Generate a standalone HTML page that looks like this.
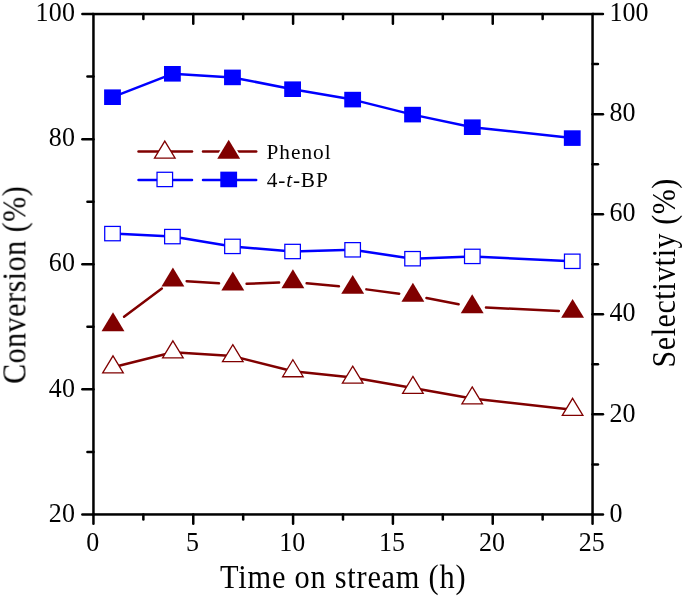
<!DOCTYPE html>
<html><head><meta charset="utf-8"><title>chart</title>
<style>html,body{margin:0;padding:0;background:#fff;}body{width:685px;height:598px;position:relative;overflow:hidden;font-family:"Liberation Serif",serif;}</style>
</head><body>
<svg width="685" height="598" viewBox="0 0 685 598" style="position:absolute;left:0;top:0">
<rect width="685" height="598" fill="#fff"/>
<line x1="113.00" y1="367.30" x2="172.90" y2="352.30" stroke="#800000" stroke-width="2.5" stroke-linecap="round"/>
<line x1="172.90" y1="352.30" x2="232.80" y2="356.10" stroke="#800000" stroke-width="2.5" stroke-linecap="round"/>
<line x1="232.80" y1="356.10" x2="292.90" y2="371.20" stroke="#800000" stroke-width="2.5" stroke-linecap="round"/>
<line x1="292.90" y1="371.20" x2="352.70" y2="377.60" stroke="#800000" stroke-width="2.5" stroke-linecap="round"/>
<line x1="352.70" y1="377.60" x2="412.90" y2="387.90" stroke="#800000" stroke-width="2.5" stroke-linecap="round"/>
<line x1="412.90" y1="387.90" x2="472.20" y2="398.40" stroke="#800000" stroke-width="2.5" stroke-linecap="round"/>
<line x1="472.20" y1="398.40" x2="572.60" y2="409.80" stroke="#800000" stroke-width="2.5" stroke-linecap="round"/>
<polygon points="113.00,355.85 123.30,372.85 102.70,372.85" fill="#fff" stroke="#800000" stroke-width="1.3" stroke-linejoin="miter" stroke-miterlimit="10"/>
<polygon points="172.90,340.85 183.20,357.85 162.60,357.85" fill="#fff" stroke="#800000" stroke-width="1.3" stroke-linejoin="miter" stroke-miterlimit="10"/>
<polygon points="232.80,344.65 243.10,361.65 222.50,361.65" fill="#fff" stroke="#800000" stroke-width="1.3" stroke-linejoin="miter" stroke-miterlimit="10"/>
<polygon points="292.90,359.75 303.20,376.75 282.60,376.75" fill="#fff" stroke="#800000" stroke-width="1.3" stroke-linejoin="miter" stroke-miterlimit="10"/>
<polygon points="352.70,366.15 363.00,383.15 342.40,383.15" fill="#fff" stroke="#800000" stroke-width="1.3" stroke-linejoin="miter" stroke-miterlimit="10"/>
<polygon points="412.90,376.45 423.20,393.45 402.60,393.45" fill="#fff" stroke="#800000" stroke-width="1.3" stroke-linejoin="miter" stroke-miterlimit="10"/>
<polygon points="472.20,386.95 482.50,403.95 461.90,403.95" fill="#fff" stroke="#800000" stroke-width="1.3" stroke-linejoin="miter" stroke-miterlimit="10"/>
<polygon points="572.60,398.35 582.90,415.35 562.30,415.35" fill="#fff" stroke="#800000" stroke-width="1.3" stroke-linejoin="miter" stroke-miterlimit="10"/>
<line x1="124.05" y1="316.73" x2="161.85" y2="288.47" stroke="#800000" stroke-width="2.5" stroke-linecap="round"/>
<line x1="186.67" y1="281.14" x2="219.03" y2="283.36" stroke="#800000" stroke-width="2.5" stroke-linecap="round"/>
<line x1="246.59" y1="283.77" x2="279.11" y2="282.53" stroke="#800000" stroke-width="2.5" stroke-linecap="round"/>
<line x1="306.64" y1="283.29" x2="338.96" y2="286.31" stroke="#800000" stroke-width="2.5" stroke-linecap="round"/>
<line x1="366.38" y1="289.38" x2="399.22" y2="293.67" stroke="#800000" stroke-width="2.5" stroke-linecap="round"/>
<line x1="426.45" y1="298.08" x2="458.65" y2="304.32" stroke="#800000" stroke-width="2.5" stroke-linecap="round"/>
<line x1="485.99" y1="307.59" x2="558.81" y2="310.96" stroke="#800000" stroke-width="2.5" stroke-linecap="round"/>
<polygon points="113.00,312.30 124.45,331.20 101.55,331.20" fill="#800000"/>
<polygon points="172.90,267.50 184.35,286.40 161.45,286.40" fill="#800000"/>
<polygon points="232.80,271.60 244.25,290.50 221.35,290.50" fill="#800000"/>
<polygon points="292.90,269.30 304.35,288.20 281.45,288.20" fill="#800000"/>
<polygon points="352.70,274.90 364.15,293.80 341.25,293.80" fill="#800000"/>
<polygon points="412.90,282.75 424.35,301.65 401.45,301.65" fill="#800000"/>
<polygon points="472.20,294.25 483.65,313.15 460.75,313.15" fill="#800000"/>
<polygon points="572.60,298.90 584.05,317.80 561.15,317.80" fill="#800000"/>
<line x1="112.50" y1="233.60" x2="172.40" y2="236.60" stroke="#0000ff" stroke-width="2.5" stroke-linecap="round"/>
<line x1="172.40" y1="236.60" x2="232.45" y2="246.40" stroke="#0000ff" stroke-width="2.5" stroke-linecap="round"/>
<line x1="232.45" y1="246.40" x2="292.60" y2="251.50" stroke="#0000ff" stroke-width="2.5" stroke-linecap="round"/>
<line x1="292.60" y1="251.50" x2="352.65" y2="249.80" stroke="#0000ff" stroke-width="2.5" stroke-linecap="round"/>
<line x1="352.65" y1="249.80" x2="412.55" y2="258.70" stroke="#0000ff" stroke-width="2.5" stroke-linecap="round"/>
<line x1="412.55" y1="258.70" x2="472.30" y2="256.40" stroke="#0000ff" stroke-width="2.5" stroke-linecap="round"/>
<line x1="472.30" y1="256.40" x2="572.25" y2="261.30" stroke="#0000ff" stroke-width="2.5" stroke-linecap="round"/>
<rect x="104.72" y="226.42" width="15.55" height="14.35" fill="#fff" stroke="#0000ff" stroke-width="1.25"/>
<rect x="164.62" y="229.42" width="15.55" height="14.35" fill="#fff" stroke="#0000ff" stroke-width="1.25"/>
<rect x="224.67" y="239.22" width="15.55" height="14.35" fill="#fff" stroke="#0000ff" stroke-width="1.25"/>
<rect x="284.83" y="244.32" width="15.55" height="14.35" fill="#fff" stroke="#0000ff" stroke-width="1.25"/>
<rect x="344.88" y="242.62" width="15.55" height="14.35" fill="#fff" stroke="#0000ff" stroke-width="1.25"/>
<rect x="404.78" y="251.52" width="15.55" height="14.35" fill="#fff" stroke="#0000ff" stroke-width="1.25"/>
<rect x="464.53" y="249.22" width="15.55" height="14.35" fill="#fff" stroke="#0000ff" stroke-width="1.25"/>
<rect x="564.48" y="254.12" width="15.55" height="14.35" fill="#fff" stroke="#0000ff" stroke-width="1.25"/>
<line x1="112.50" y1="97.20" x2="172.40" y2="73.80" stroke="#0000ff" stroke-width="2.5" stroke-linecap="round"/>
<line x1="172.40" y1="73.80" x2="232.45" y2="77.40" stroke="#0000ff" stroke-width="2.5" stroke-linecap="round"/>
<line x1="232.45" y1="77.40" x2="292.60" y2="89.20" stroke="#0000ff" stroke-width="2.5" stroke-linecap="round"/>
<line x1="292.60" y1="89.20" x2="352.65" y2="99.60" stroke="#0000ff" stroke-width="2.5" stroke-linecap="round"/>
<line x1="352.65" y1="99.60" x2="412.55" y2="114.60" stroke="#0000ff" stroke-width="2.5" stroke-linecap="round"/>
<line x1="412.55" y1="114.60" x2="472.30" y2="127.20" stroke="#0000ff" stroke-width="2.5" stroke-linecap="round"/>
<line x1="472.30" y1="127.20" x2="572.25" y2="138.10" stroke="#0000ff" stroke-width="2.5" stroke-linecap="round"/>
<rect x="104.10" y="89.40" width="16.8" height="15.6" fill="#0000ff"/>
<rect x="164.00" y="66.00" width="16.8" height="15.6" fill="#0000ff"/>
<rect x="224.05" y="69.60" width="16.8" height="15.6" fill="#0000ff"/>
<rect x="284.20" y="81.40" width="16.8" height="15.6" fill="#0000ff"/>
<rect x="344.25" y="91.80" width="16.8" height="15.6" fill="#0000ff"/>
<rect x="404.15" y="106.80" width="16.8" height="15.6" fill="#0000ff"/>
<rect x="463.90" y="119.40" width="16.8" height="15.6" fill="#0000ff"/>
<rect x="563.85" y="130.30" width="16.8" height="15.6" fill="#0000ff"/>
<line x1="138.5" y1="151.6" x2="192.0" y2="151.6" stroke="#800000" stroke-width="2.5" stroke-linecap="round"/>
<polygon points="164.80,141.05 175.10,158.05 154.50,158.05" fill="#fff" stroke="#800000" stroke-width="1.3" stroke-linejoin="miter" stroke-miterlimit="10"/>
<line x1="138.5" y1="179.95" x2="192.0" y2="179.95" stroke="#0000ff" stroke-width="2.5" stroke-linecap="round"/>
<rect x="157.03" y="172.27" width="15.55" height="14.35" fill="#fff" stroke="#0000ff" stroke-width="1.25"/>
<line x1="203.0" y1="151.6" x2="256.2" y2="151.6" stroke="#800000" stroke-width="2.5" stroke-linecap="round"/>
<polygon points="228.70,139.80 240.15,158.70 217.25,158.70" fill="#fff" stroke="#fff" stroke-width="3.6"/>
<polygon points="228.70,139.80 240.15,158.70 217.25,158.70" fill="#800000"/>
<line x1="203.0" y1="179.95" x2="256.2" y2="179.95" stroke="#0000ff" stroke-width="2.5" stroke-linecap="round"/>
<rect x="220.30" y="171.65" width="16.8" height="15.6" fill="#0000ff"/>
<g stroke="#000" stroke-width="2.5" stroke-linecap="round" fill="none">
<rect x="93.45" y="14.05" width="499.09999999999997" height="500.40000000000003" stroke-linecap="butt"/>
<line x1="93.45" y1="514.45" x2="93.45" y2="523.85"/>
<line x1="143.36" y1="514.45" x2="143.36" y2="519.45"/>
<line x1="143.36" y1="14.05" x2="143.36" y2="18.950000000000003"/>
<line x1="193.27" y1="514.45" x2="193.27" y2="523.85"/>
<line x1="193.27" y1="14.05" x2="193.27" y2="23.75"/>
<line x1="243.18" y1="514.45" x2="243.18" y2="519.45"/>
<line x1="243.18" y1="14.05" x2="243.18" y2="18.950000000000003"/>
<line x1="293.09" y1="514.45" x2="293.09" y2="523.85"/>
<line x1="293.09" y1="14.05" x2="293.09" y2="23.75"/>
<line x1="343.00" y1="514.45" x2="343.00" y2="519.45"/>
<line x1="343.00" y1="14.05" x2="343.00" y2="18.950000000000003"/>
<line x1="392.91" y1="514.45" x2="392.91" y2="523.85"/>
<line x1="392.91" y1="14.05" x2="392.91" y2="23.75"/>
<line x1="442.82" y1="514.45" x2="442.82" y2="519.45"/>
<line x1="442.82" y1="14.05" x2="442.82" y2="18.950000000000003"/>
<line x1="492.73" y1="514.45" x2="492.73" y2="523.85"/>
<line x1="492.73" y1="14.05" x2="492.73" y2="23.75"/>
<line x1="542.64" y1="514.45" x2="542.64" y2="519.45"/>
<line x1="542.64" y1="14.05" x2="542.64" y2="18.950000000000003"/>
<line x1="592.55" y1="514.45" x2="592.55" y2="523.85"/>
<line x1="93.45" y1="514.45" x2="82.35000000000001" y2="514.45"/>
<line x1="93.45" y1="451.90" x2="87.45" y2="451.90"/>
<line x1="93.45" y1="389.35" x2="82.35000000000001" y2="389.35"/>
<line x1="93.45" y1="326.80" x2="87.45" y2="326.80"/>
<line x1="93.45" y1="264.25" x2="82.35000000000001" y2="264.25"/>
<line x1="93.45" y1="201.70" x2="87.45" y2="201.70"/>
<line x1="93.45" y1="139.15" x2="82.35000000000001" y2="139.15"/>
<line x1="93.45" y1="76.60" x2="87.45" y2="76.60"/>
<line x1="93.45" y1="14.05" x2="82.35000000000001" y2="14.05"/>
<line x1="592.55" y1="514.45" x2="602.9499999999999" y2="514.45"/>
<line x1="592.55" y1="464.41" x2="597.9499999999999" y2="464.41"/>
<line x1="592.55" y1="414.37" x2="602.9499999999999" y2="414.37"/>
<line x1="592.55" y1="364.33" x2="597.9499999999999" y2="364.33"/>
<line x1="592.55" y1="314.29" x2="602.9499999999999" y2="314.29"/>
<line x1="592.55" y1="264.25" x2="597.9499999999999" y2="264.25"/>
<line x1="592.55" y1="214.21" x2="602.9499999999999" y2="214.21"/>
<line x1="592.55" y1="164.17" x2="597.9499999999999" y2="164.17"/>
<line x1="592.55" y1="114.13" x2="602.9499999999999" y2="114.13"/>
<line x1="592.55" y1="64.09" x2="597.9499999999999" y2="64.09"/>
<line x1="592.55" y1="14.05" x2="602.9499999999999" y2="14.05"/>
</g>
<g font-family="Liberation Serif, serif" fill="#000" style="will-change:opacity" opacity="0.999">
<text transform="translate(92.65,550.70) scale(1,1.055)" font-size="26" text-anchor="middle">0</text>
<text transform="translate(192.47,550.70) scale(1,1.055)" font-size="26" text-anchor="middle">5</text>
<text transform="translate(292.29,550.70) scale(1,1.055)" font-size="26" text-anchor="middle">10</text>
<text transform="translate(392.11,550.70) scale(1,1.055)" font-size="26" text-anchor="middle">15</text>
<text transform="translate(491.93,550.70) scale(1,1.055)" font-size="26" text-anchor="middle">20</text>
<text transform="translate(591.75,550.70) scale(1,1.055)" font-size="26" text-anchor="middle">25</text>
<text transform="translate(75.20,521.65) scale(1,1.055)" font-size="26" text-anchor="end" letter-spacing="0.2">20</text>
<text transform="translate(75.20,396.55) scale(1,1.055)" font-size="26" text-anchor="end" letter-spacing="0.2">40</text>
<text transform="translate(75.20,271.45) scale(1,1.055)" font-size="26" text-anchor="end" letter-spacing="0.2">60</text>
<text transform="translate(75.20,146.35) scale(1,1.055)" font-size="26" text-anchor="end" letter-spacing="0.2">80</text>
<text transform="translate(75.20,21.25) scale(1,1.055)" font-size="26" text-anchor="end" letter-spacing="0.2">100</text>
<text transform="translate(609.60,521.65) scale(1,1.055)" font-size="26" text-anchor="start">0</text>
<text transform="translate(609.60,421.57) scale(1,1.055)" font-size="26" text-anchor="start">20</text>
<text transform="translate(609.60,321.49) scale(1,1.055)" font-size="26" text-anchor="start">40</text>
<text transform="translate(609.60,221.41) scale(1,1.055)" font-size="26" text-anchor="start">60</text>
<text transform="translate(609.60,121.33) scale(1,1.055)" font-size="26" text-anchor="start">80</text>
<text transform="translate(609.60,21.25) scale(1,1.055)" font-size="26" text-anchor="start">100</text>
<text transform="translate(343.20,587.80) scale(1,1.09)" font-size="30.4" text-anchor="middle" letter-spacing="0.75">Time on stream (h)</text>
<text transform="translate(25.50,284.80) rotate(-90) scale(1,1.11)" font-size="30" text-anchor="middle" letter-spacing="0.5">Conversion (%)</text>
<text transform="translate(675.00,272.80) rotate(-90) scale(1,1.11)" font-size="30" text-anchor="middle" letter-spacing="0.58">Selectivtiy (%)</text>
<text transform="translate(266.50,159.30)" font-size="21.3" text-anchor="start" letter-spacing="1">Phenol</text>
<text transform="translate(266.70,186.50) scale(1,1.03)" font-size="21.3" text-anchor="start" letter-spacing="0.85">4-<tspan font-style="italic">t</tspan>-BP</text>
</g>
</svg>
</body></html>
